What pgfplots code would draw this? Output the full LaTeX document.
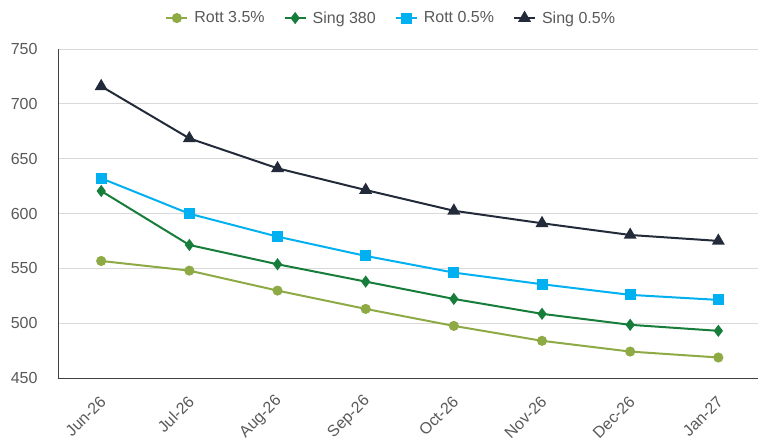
\documentclass[border=0pt]{standalone}
\usepackage{pgfplots}
\pgfplotsset{compat=1.18}
\usepackage{fontspec}
\setmainfont{Liberation Sans}
\definecolor{cRottA}{HTML}{8DAA45}
\definecolor{cSingA}{HTML}{177D3A}
\definecolor{cRottB}{HTML}{00B0F0}
\definecolor{cSingB}{HTML}{232B3A}
\definecolor{tickgray}{HTML}{595959}
\definecolor{gridgray}{HTML}{D9D9D9}
\begin{document}
\begin{tikzpicture}
\useasboundingbox (-58pt,-63pt) rectangle (700pt,378pt);
\begin{axis}[
  at={(0pt,0pt)}, anchor=south west,
  scale only axis, width=700pt, height=329pt,
  xmin=-0.49, xmax=7.45, ymin=450, ymax=750,
  ytick={450,500,...,750},
  xtick={0,...,7},
  xticklabels={Jun-26,Jul-26,Aug-26,Sep-26,Oct-26,Nov-26,Dec-26,Jan-27},
  axis x line*=bottom, axis y line*=left,
  axis line style={draw=black!75, line width=0.8pt},
  x axis line style={-}, y axis line style={-},
  major tick length=0pt,
  ymajorgrids, grid style={gridgray, line width=0.8pt},
  /pgf/number format/assume math mode=true,
  ticklabel style={font=\fontsize{16}{18}\selectfont, text=tickgray},
  xticklabel style={rotate=45, anchor=east, xshift=-10pt, yshift=-16pt},
  yticklabel style={xshift=-17pt},
  clip=false,
  legend columns=4,
  legend style={draw=none, fill=none, at={(axis description cs:0.476,1.094)}, anchor=center,
    font=\fontsize{16}{18}\selectfont, text=tickgray,
    /tikz/every odd column/.append style={column sep=4pt},
    /tikz/every even column/.append style={column sep=17pt}},
  legend image code/.code={
    \draw[#1, mark repeat=2, mark phase=2] plot coordinates {(0pt,0pt) (10.5pt,0pt) (21pt,0pt)};
  },
  every axis plot/.append style={line width=2pt},
]
\addplot[cRottA, mark=*, mark size=4pt] coordinates {
 (0,556.7) (1,547.9) (2,529.7) (3,513.0) (4,497.5) (5,483.9) (6,474.1) (7,468.7)};
\addlegendentry{Rott 3.5\%}
\addplot[cSingA, mark=diamond*, mark size=4.5pt] coordinates {
 (0,620.5) (1,571.3) (2,553.7) (3,537.9) (4,522.1) (5,508.5) (6,498.5) (7,493.0)};
\addlegendentry{Sing 380}
\addplot[cRottB, mark=square*, mark size=4.5pt] coordinates {
 (0,632.1) (1,599.8) (2,578.9) (3,561.3) (4,546.1) (5,535.5) (6,525.8) (7,521.2)};
\addlegendentry{Rott 0.5\%}
\addplot[cSingB, mark=triangle*, mark size=5.5pt] coordinates {
 (0,716.0) (1,668.5) (2,641.2) (3,621.4) (4,602.5) (5,591.1) (6,580.4) (7,575.0)};
\addlegendentry{Sing 0.5\%}
\end{axis}
\end{tikzpicture}
\end{document}
